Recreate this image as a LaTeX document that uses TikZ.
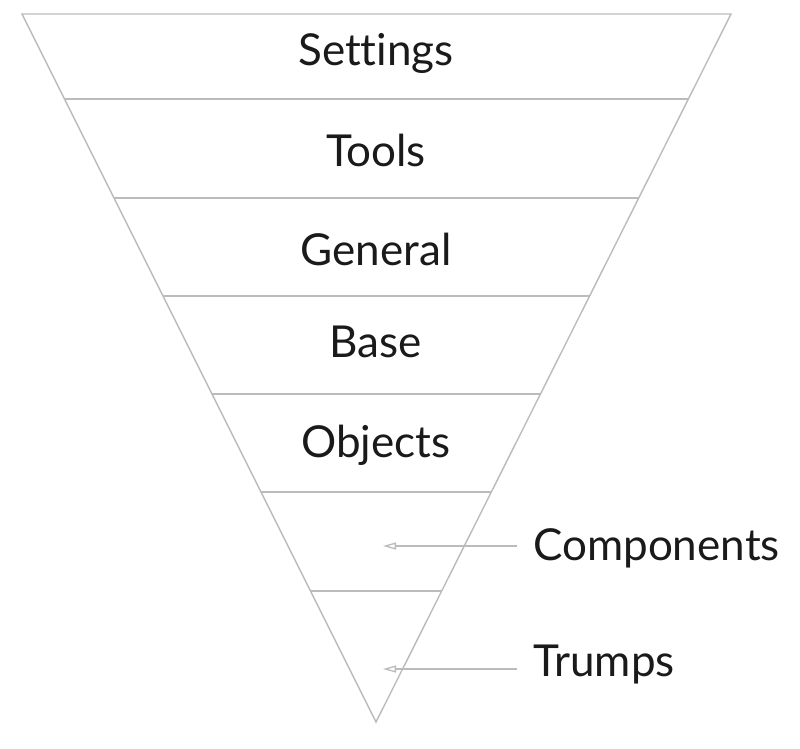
\documentclass[tikz,border=0pt]{standalone}
\usepackage{fontspec}
\setmainfont{Lato}[Ligatures={NoCommon}]
\usetikzlibrary{arrows.meta,calc}

\definecolor{edgegray}{HTML}{BBBBBB}
\definecolor{textblack}{HTML}{1A1A1A}

\begin{document}
\begin{tikzpicture}[x=1pt, y=-1pt,
    edge/.style={edgegray, line width=1.4pt, line join=miter},
    layertext/.style={textblack, font=\fontsize{44}{50}\selectfont, inner sep=0pt},
    pointer/.style={edgegray, line width=1.3pt, -{Triangle[open, length=13pt, width=7pt]}}]

    \useasboundingbox (0,0) rectangle (800,748);

    % Corners of the funnel
    \coordinate (topleft) at (22,14);
    \coordinate (topright) at (731,14);
    \coordinate (apex) at (376,722);

    % Draw the funnel outline
    \draw[edge] (topleft) -- (topright) -- (apex) -- cycle;

    % Draw the layer dividers
    \foreach \y in {99,198,296,394,492,591} {
        \draw[edge] ($(topleft)!{(\y-14)/708}!(apex)$) -- ($(topright)!{(\y-14)/708}!(apex)$);
    }

    % Layer names
    \node[layertext, anchor=base] (settings) at (376,65) {Settings};
    \node[layertext, anchor=base] (tools) at (376,166) {Tools};
    \node[layertext, anchor=base] (general) at (376,265) {General};
    \node[layertext, anchor=base] (base) at (376,357) {Base};
    \node[layertext, anchor=base] (objects) at (376,457) {Objects};

    % Labels outside the funnel
    \node[layertext, anchor=base west] (components) at (533,560) {Components};
    \node[layertext, anchor=base west] (trumps) at (533,676) {Trumps};

    % Pointers into the two lowest layers
    \coordinate (componentstail) at (517,546);
    \coordinate (componentstip) at (383,546);
    \coordinate (trumpstail) at (517,669);
    \coordinate (trumpstip) at (383,669);
    \draw[pointer] (componentstail) -- (componentstip);
    \draw[pointer] (trumpstail) -- (trumpstip);

\end{tikzpicture}
\end{document}
